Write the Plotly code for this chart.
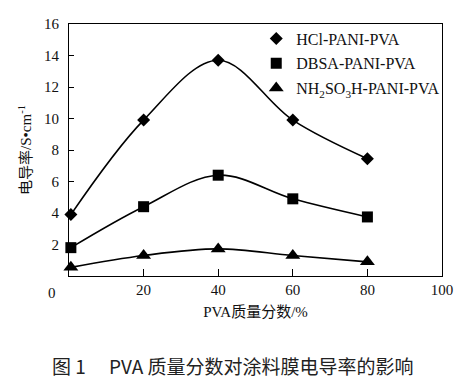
import plotly.graph_objects as go

# Data
pva = [0.5, 20, 40, 60, 80]
hcl = [3.9, 9.9, 13.7, 9.9, 7.45]
dbsa = [1.8, 4.4, 6.4, 4.9, 3.75]
nh2 = [0.55, 1.3, 1.72, 1.3, 0.9]

names = ["HCl-PANI-PVA", "DBSA-PANI-PVA", "NH<sub>2</sub>SO<sub>3</sub>H-PANI-PVA"]
symbols = ["diamond", "square", "triangle-up"]
sizes = [10, 11, 13]
series = [hcl, dbsa, nh2]

xticks = [20, 40, 60, 80, 100]
yticks = [2, 4, 6, 8, 10, 12, 14, 16]

SERIF = "Liberation Serif, Times New Roman, Noto Sans CJK SC"

fig = go.Figure()
for i, (ys, nm, sym, sz) in enumerate(zip(series, names, symbols, sizes)):
    fig.add_trace(go.Scatter(
        x=pva, y=ys, mode="lines", line=dict(color="black", width=1.6, shape="spline", smoothing=1.0),
        showlegend=False, hoverinfo="skip"))
    fig.add_trace(go.Scatter(
        x=pva, y=ys, mode="markers", name=nm, legendgroup=f"g{i}",
        marker=dict(symbol=sym, size=sz, color="black"), cliponaxis=False))

axis_common = dict(
    showline=True, linecolor="black", linewidth=1, mirror=True,
    showgrid=False, zeroline=False, ticks="inside", tickcolor="black",
    tickfont=dict(family=SERIF, size=15, color="#111"),
)

fig.update_xaxes(range=[0, 100], tickvals=xticks, ticklen=7, **axis_common,
                 title=dict(text="PVA质量分数/%", font=dict(family=SERIF, size=15, color="#111"), standoff=9))
fig.update_yaxes(range=[0, 16], tickvals=yticks, ticklen=5, ticklabelstandoff=6, **axis_common,
                 title=dict(text="电导率/S•cm<sup>-1</sup>", font=dict(family=SERIF, size=15, color="#111"), standoff=8))

fig.add_annotation(text="0", xref="paper", yref="paper", x=-0.046, y=-0.068,
                   showarrow=False, font=dict(family=SERIF, size=15, color="#111"),
                   xanchor="center", yanchor="middle")

fig.add_annotation(text="图 1　 PVA 质量分数对涂料膜电导率的影响", xref="paper", yref="paper",
                   x=0.44, y=-0.355, showarrow=False,
                   font=dict(family="Noto Sans CJK SC", size=19, color="#222"),
                   xanchor="center", yanchor="middle")

fig.update_layout(
    width=465, height=389,
    margin=dict(l=69, r=23, t=24, b=113),
    paper_bgcolor="white", plot_bgcolor="white",
    legend=dict(x=0.502, y=1.01, xanchor="left", yanchor="top",
                font=dict(family=SERIF, size=16, color="#111"),
                bgcolor="rgba(0,0,0,0)", borderwidth=0,
                tracegroupgap=1, itemwidth=30, traceorder="grouped"),
    showlegend=True,
)

fig.write_html("out.html", config={"displayModeBar": False},
               post_script="document.body.style.margin='0';document.body.style.padding='0';")
